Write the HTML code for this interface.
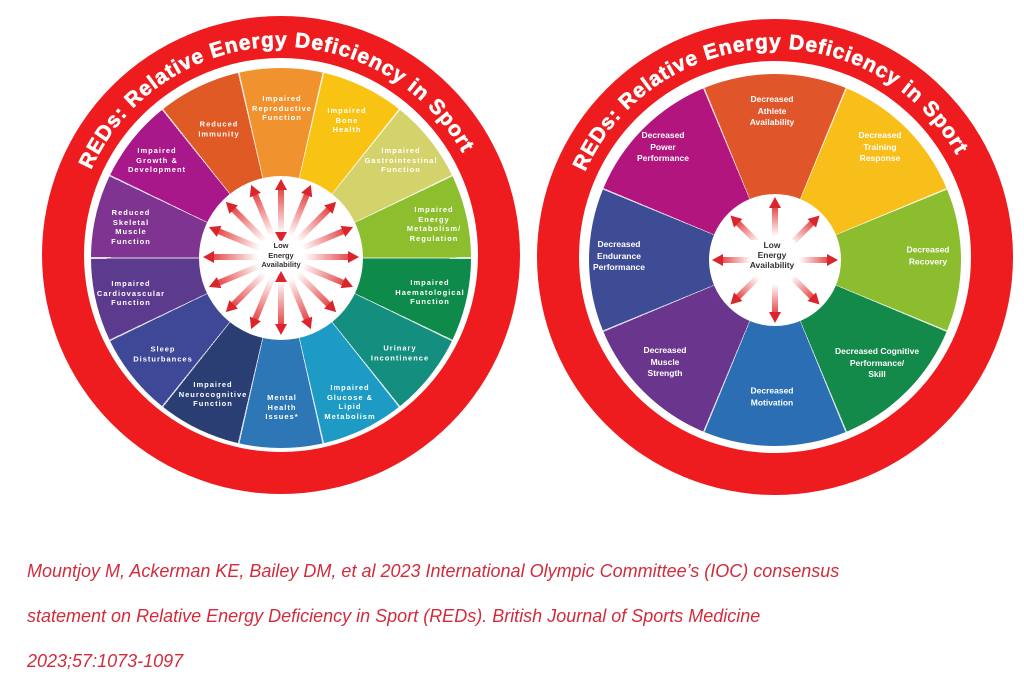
<!DOCTYPE html>
<html><head><meta charset="utf-8"><style>
body{margin:0;background:#fff;width:1024px;height:685px;overflow:hidden;position:relative;font-family:"Liberation Sans",sans-serif}
.wheel{position:absolute;border-radius:50%}
.lab{position:absolute;transform:translate(-50%,-50%);color:#fff;font-weight:bold;text-align:center;white-space:nowrap}
.L{font-size:7.5px;line-height:9.5px;letter-spacing:1px}
.R{font-size:8.5px;line-height:11.5px}
.c{color:#333;letter-spacing:0}
.arr{position:absolute;height:6px;transform-origin:0 50%}
.arr .b{position:absolute;left:9px;right:10px;top:0;height:6px;background:linear-gradient(90deg,#fff,#e64a4a)}
.arr .h1{position:absolute;right:0;top:-3px;border-left:11px solid #d9252b;border-top:6px solid transparent;border-bottom:6px solid transparent}
.arr .h0{position:absolute;left:0;top:-3px;border-right:11px solid #d9252b;border-top:6px solid transparent;border-bottom:6px solid transparent}
.cap{position:absolute;left:27px;color:#d12c3c;font-style:italic;font-size:18px;white-space:nowrap}
</style></head><body>
<svg width="1024" height="685" style="position:absolute;left:0;top:0">
<circle cx="281" cy="255" r="239" fill="#ee1c1f"/>
<circle cx="281" cy="255" r="197" fill="#fff"/>
<circle cx="775" cy="257" r="238" fill="#ee1c1f"/>
<circle cx="775" cy="257" r="196" fill="#fff"/>
<defs>
<path id="pl" d="M91,170 A208,208 0 0 1 471,170"/>
<path id="pr" d="M585,172 A208,208 0 0 1 965,172"/>
</defs>
<text font-family="Liberation Sans" font-weight="bold" font-size="21" fill="#fff" stroke="#fff" stroke-width="0.6" letter-spacing="2"><textPath href="#pl" textLength="462" lengthAdjust="spacing">REDs: Relative Energy Deficiency in Sport</textPath></text>
<text font-family="Liberation Sans" font-weight="bold" font-size="21" fill="#fff" stroke="#fff" stroke-width="0.6" letter-spacing="2"><textPath href="#pr" textLength="462" lengthAdjust="spacing">REDs: Relative Energy Deficiency in Sport</textPath></text>
</svg>
<div class="wheel" style="left:91px;top:68px;width:380px;height:380px;background:conic-gradient(from -12.857deg,#f0922e 0 25.714deg,#f9c313 0 51.43deg,#d4d26a 0 77.14deg,#8dbe2e 0 102.86deg,#0e8a4a 0 128.57deg,#148e7e 0 154.29deg,#1e9bc4 0 180deg,#2e77b7 0 205.71deg,#2a3e73 0 231.43deg,#3f4896 0 257.14deg,#5c3a8e 0 282.86deg,#7e3490 0 308.57deg,#a8188a 0 334.29deg,#e05a26 0 360deg)"></div>
<div class="wheel" style="left:91px;top:68px;width:380px;height:380px;background:repeating-conic-gradient(from -13.1deg,rgba(255,255,255,.8) 0 0.5deg,transparent 0 25.714deg)"></div>
<div class="wheel" style="left:199px;top:176px;width:164px;height:164px;background:#fff"></div>
<div class="wheel" style="left:589px;top:74px;width:372px;height:372px;background:conic-gradient(from -22.5deg,#e0562a 0 45deg,#f8be1a 0 90deg,#8cbd2e 0 135deg,#13894a 0 180deg,#2c6eb3 0 225deg,#6a358c 0 270deg,#3e4c96 0 315deg,#b3157f 0 360deg)"></div>
<div class="wheel" style="left:589px;top:74px;width:372px;height:372px;background:repeating-conic-gradient(from -22.75deg,rgba(255,255,255,.8) 0 0.5deg,transparent 0 45deg)"></div>
<div class="wheel" style="left:709px;top:194px;width:132px;height:132px;background:#fff"></div>

<!-- left arrows -->
<div style="position:absolute;left:281px;top:257px">
<div class="arr" style="width:64px;top:-3px;transform:rotate(0deg) translateX(14px)"><div class="b"></div><div class="h1"></div></div>
<div class="arr" style="width:64px;top:-3px;transform:rotate(22.5deg) translateX(14px)"><div class="b"></div><div class="h1"></div></div>
<div class="arr" style="width:64px;top:-3px;transform:rotate(45deg) translateX(14px)"><div class="b"></div><div class="h1"></div></div>
<div class="arr" style="width:64px;top:-3px;transform:rotate(67.5deg) translateX(14px)"><div class="b"></div><div class="h1"></div></div>
<div class="arr" style="width:64px;top:-3px;transform:rotate(90deg) translateX(14px)"><div class="b"></div><div class="h1"></div><div class="h0"></div></div>
<div class="arr" style="width:64px;top:-3px;transform:rotate(112.5deg) translateX(14px)"><div class="b"></div><div class="h1"></div></div>
<div class="arr" style="width:64px;top:-3px;transform:rotate(135deg) translateX(14px)"><div class="b"></div><div class="h1"></div></div>
<div class="arr" style="width:64px;top:-3px;transform:rotate(157.5deg) translateX(14px)"><div class="b"></div><div class="h1"></div></div>
<div class="arr" style="width:64px;top:-3px;transform:rotate(180deg) translateX(14px)"><div class="b"></div><div class="h1"></div></div>
<div class="arr" style="width:64px;top:-3px;transform:rotate(202.5deg) translateX(14px)"><div class="b"></div><div class="h1"></div></div>
<div class="arr" style="width:64px;top:-3px;transform:rotate(225deg) translateX(14px)"><div class="b"></div><div class="h1"></div></div>
<div class="arr" style="width:64px;top:-3px;transform:rotate(247.5deg) translateX(14px)"><div class="b"></div><div class="h1"></div></div>
<div class="arr" style="width:64px;top:-3px;transform:rotate(270deg) translateX(14px)"><div class="b"></div><div class="h1"></div><div class="h0"></div></div>
<div class="arr" style="width:64px;top:-3px;transform:rotate(292.5deg) translateX(14px)"><div class="b"></div><div class="h1"></div></div>
<div class="arr" style="width:64px;top:-3px;transform:rotate(315deg) translateX(14px)"><div class="b"></div><div class="h1"></div></div>
<div class="arr" style="width:64px;top:-3px;transform:rotate(337.5deg) translateX(14px)"><div class="b"></div><div class="h1"></div></div>
</div>
<!-- right arrows -->
<div style="position:absolute;left:775px;top:260px">
<div class="arr" style="width:48px;top:-3px;transform:rotate(0deg) translateX(15px)"><div class="b"></div><div class="h1"></div></div>
<div class="arr" style="width:48px;top:-3px;transform:rotate(45deg) translateX(15px)"><div class="b"></div><div class="h1"></div></div>
<div class="arr" style="width:48px;top:-3px;transform:rotate(90deg) translateX(15px)"><div class="b"></div><div class="h1"></div></div>
<div class="arr" style="width:48px;top:-3px;transform:rotate(135deg) translateX(15px)"><div class="b"></div><div class="h1"></div></div>
<div class="arr" style="width:48px;top:-3px;transform:rotate(180deg) translateX(15px)"><div class="b"></div><div class="h1"></div></div>
<div class="arr" style="width:48px;top:-3px;transform:rotate(225deg) translateX(15px)"><div class="b"></div><div class="h1"></div></div>
<div class="arr" style="width:48px;top:-3px;transform:rotate(270deg) translateX(15px)"><div class="b"></div><div class="h1"></div></div>
<div class="arr" style="width:48px;top:-3px;transform:rotate(315deg) translateX(15px)"><div class="b"></div><div class="h1"></div></div>
</div>

<div class="lab L" style="left:282px;top:108px">Impaired<br>Reproductive<br>Function</div>
<div class="lab L" style="left:347px;top:120px">Impaired<br>Bone<br>Health</div>
<div class="lab L" style="left:401px;top:160px">Impaired<br>Gastrointestinal<br>Function</div>
<div class="lab L" style="left:434px;top:224px">Impaired<br>Energy<br>Metabolism/<br>Regulation</div>
<div class="lab L" style="left:430px;top:292px">Impaired<br>Haematological<br>Function</div>
<div class="lab L" style="left:400px;top:353px">Urinary<br>Incontinence</div>
<div class="lab L" style="left:350px;top:402px">Impaired<br>Glucose &amp;<br>Lipid<br>Metabolism</div>
<div class="lab L" style="left:282px;top:407px">Mental<br>Health<br>Issues*</div>
<div class="lab L" style="left:213px;top:394px">Impaired<br>Neurocognitive<br>Function</div>
<div class="lab L" style="left:163px;top:354px">Sleep<br>Disturbances</div>
<div class="lab L" style="left:131px;top:293px">Impaired<br>Cardiovascular<br>Function</div>
<div class="lab L" style="left:131px;top:227px">Reduced<br>Skeletal<br>Muscle<br>Function</div>
<div class="lab L" style="left:157px;top:160px">Impaired<br>Growth &amp;<br>Development</div>
<div class="lab L" style="left:219px;top:129px">Reduced<br>Immunity</div>
<div class="lab c" style="left:281px;top:255px;font-size:7.5px;line-height:9.5px;background:#fff">Low<br>Energy<br>Availability</div>

<div class="lab R" style="left:772px;top:111px">Decreased<br>Athlete<br>Availability</div>
<div class="lab R" style="left:663px;top:147px">Decreased<br>Power<br>Performance</div>
<div class="lab R" style="left:880px;top:147px">Decreased<br>Training<br>Response</div>
<div class="lab R" style="left:619px;top:256px">Decreased<br>Endurance<br>Performance</div>
<div class="lab R" style="left:928px;top:256px">Decreased<br>Recovery</div>
<div class="lab R" style="left:665px;top:362px">Decreased<br>Muscle<br>Strength</div>
<div class="lab R" style="left:877px;top:363px">Decreased Cognitive<br>Performance/<br>Skill</div>
<div class="lab R" style="left:772px;top:397px">Decreased<br>Motivation</div>
<div class="lab c" style="left:772px;top:255px;font-size:8.5px;line-height:10px;background:#fff">Low<br>Energy<br>Availability</div>

<div class="cap" style="top:561px">Mountjoy M, Ackerman KE, Bailey DM, et al 2023 International Olympic Committee’s (IOC) consensus</div>
<div class="cap" style="top:606px">statement on Relative Energy Deficiency in Sport (REDs). British Journal of Sports Medicine</div>
<div class="cap" style="top:651px">2023;57:1073-1097</div>
</body></html>
